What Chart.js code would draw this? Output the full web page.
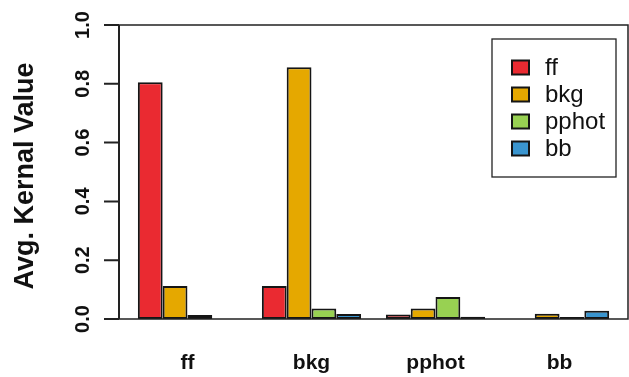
<!DOCTYPE html>
<html>
<head>
<meta charset="utf-8">
<script src="https://cdn.jsdelivr.net/npm/chart.js@4"></script>
<style>
  body { margin: 0; background: #fff; }
  #wrap { width: 629px; height: 377px; }
</style>
</head>
<body>
<div id="wrap"><canvas id="kernelChart"></canvas></div>
<script>
const groups = ['ff', 'bkg', 'pphot', 'bb'];
const seriesNames = ['ff', 'bkg', 'pphot', 'bb'];
const ffValues = [0.805, 0.112, 0.015, 0.0];
const bkgValues = [0.112, 0.856, 0.036, 0.018];
const pphotValues = [0.014, 0.036, 0.075, 0.007];
const bbValues = [0.0, 0.017, 0.008, 0.028];
const yTicks = [0, 0.2, 0.4, 0.6, 0.8, 1.0];
const yTitle = 'Avg. Kernal Value';

const colors = ['#ea2a31', '#e5a800', '#98d152', '#3a95cf'];
const FONT = '"Liberation Sans", Arial, sans-serif';

// R barplot(beside=TRUE) layout: one bar-width gap before each group
const perGroup = seriesNames.length;
const centers = groups.map((_, i) => 1 + i * (perGroup + 1) + perGroup / 2);
const lo = 1, hi = groups.length * (perGroup + 1);
const pad = (hi - lo) * 0.04;

const seriesValues = [ffValues, bkgValues, pphotValues, bbValues];
const datasets = seriesNames.map((name, s) => ({
  label: name,
  data: groups.map((_, g) => ({ x: centers[g], y: seriesValues[s][g] })),
  backgroundColor: colors[s],
  borderColor: '#151515',
  borderWidth: 2,
  borderSkipped: false,
  categoryPercentage: 0.8,
  barPercentage: 1.0
}));

const axesPlugin = {
  id: 'rAxes',
  afterDraw(chart) {
    const ctx = chart.ctx;
    const a = chart.chartArea;
    const y = chart.scales.y;
    ctx.save();
    ctx.strokeStyle = '#222';
    ctx.lineWidth = 1.5;
    // box
    ctx.beginPath();
    ctx.moveTo(a.left, a.top);
    ctx.lineTo(a.right, a.top);
    ctx.lineTo(a.right, a.bottom);
    ctx.lineTo(a.left, a.bottom);
    ctx.stroke();
    // y axis
    ctx.lineWidth = 2;
    ctx.beginPath();
    ctx.moveTo(a.left, y.getPixelForValue(yTicks[0]));
    ctx.lineTo(a.left, y.getPixelForValue(yTicks[yTicks.length - 1]));
    yTicks.forEach(v => {
      const py = y.getPixelForValue(v);
      ctx.moveTo(a.left - 15, py);
      ctx.lineTo(a.left, py);
    });
    ctx.stroke();
    ctx.fillStyle = '#111';
    ctx.textAlign = 'center';
    ctx.textBaseline = 'middle';
    ctx.font = 'bold 20px ' + FONT;
    yTicks.forEach(v => {
      const py = y.getPixelForValue(v);
      ctx.save();
      ctx.translate(83, py);
      ctx.rotate(-Math.PI / 2);
      ctx.fillText(v.toFixed(1), 0, 0);
      ctx.restore();
    });
    ctx.font = 'bold 27px ' + FONT;
    ctx.save();
    ctx.translate(26, (a.top + a.bottom) / 2 + 4);
    ctx.rotate(-Math.PI / 2);
    ctx.fillText(yTitle, 0, 0);
    ctx.restore();

    // legend
    const lx = 492, ly = 39, lw = 124, lh = 138;
    ctx.lineWidth = 1.3;
    ctx.strokeStyle = '#222';
    ctx.strokeRect(lx, ly, lw, lh);
    ctx.font = '24px ' + FONT;
    ctx.textAlign = 'left';
    chart.data.datasets.forEach((ds, i) => {
      const cy = 67.5 + i * 27;
      ctx.fillStyle = ds.backgroundColor;
      ctx.fillRect(512, cy - 7, 17, 14);
      ctx.strokeStyle = '#151515';
      ctx.lineWidth = 2;
      ctx.strokeRect(512, cy - 7, 17, 14);
      ctx.fillStyle = '#111';
      ctx.fillText(ds.label, 545, cy + 1);
    });
    ctx.restore();
  }
};

new Chart(document.getElementById('kernelChart').getContext('2d'), {
  type: 'bar',
  data: { datasets: datasets },
  options: {
    responsive: true,
    maintainAspectRatio: false,
    animation: false,
    layout: { padding: { left: 119, right: 1, top: 25, bottom: 0 } },
    plugins: {
      legend: { display: false },
      tooltip: { enabled: false }
    },
    scales: {
      x: {
        type: 'linear',
        offset: false,
        min: lo - pad,
        max: hi + pad,
        grid: { display: false },
        border: { display: false },
        afterBuildTicks: scale => { scale.ticks = centers.map(v => ({ value: v })); },
        afterFit: scale => { scale.height = 58; },
        ticks: {
          autoSkip: false,
          maxRotation: 0,
          padding: 24,
          color: '#111',
          font: { family: FONT, size: 21, weight: 'bold' },
          callback: value => groups[centers.indexOf(value)]
        }
      },
      y: {
        display: false,
        min: 0,
        max: 1,
        ticks: { stepSize: 0.2 }
      }
    }
  },
  plugins: [axesPlugin]
});
</script>
</body>
</html>
